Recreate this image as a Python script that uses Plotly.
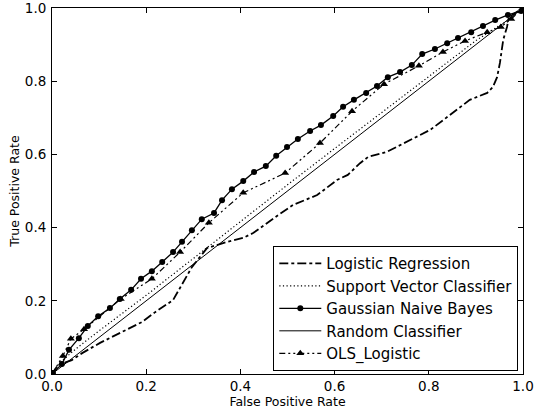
import plotly.graph_objects as go

# ---- data ----
lr_fpr = [0, 0.013, 0.042, 0.064, 0.102, 0.155, 0.191, 0.219, 0.257, 0.297, 0.329, 0.372,
          0.406, 0.427, 0.456, 0.480, 0.512, 0.563, 0.605, 0.628, 0.654, 0.671, 0.711, 0.760,
          0.803, 0.839, 0.887, 0.924, 0.936, 0.945, 0.951, 0.958, 0.966, 0.970, 1.0]
lr_tpr = [0, 0.025, 0.038, 0.057, 0.085, 0.120, 0.142, 0.169, 0.202, 0.292, 0.344, 0.361,
          0.372, 0.385, 0.413, 0.434, 0.462, 0.489, 0.530, 0.544, 0.576, 0.593, 0.607, 0.639,
          0.667, 0.702, 0.749, 0.768, 0.784, 0.811, 0.850, 0.913, 0.948, 0.975, 1.0]

svc_fpr = [0, 0.02, 0.05, 0.10, 0.20, 0.30, 0.40, 0.50, 0.60, 0.70, 0.80, 0.90, 0.95, 0.97, 1.0]
svc_tpr = [0, 0.035, 0.068, 0.118, 0.215, 0.316, 0.416, 0.517, 0.616, 0.714, 0.813, 0.911, 0.952, 0.967, 1.0]

gnb_fpr = [0, 0.002, 0.021, 0.036, 0.057, 0.076, 0.098, 0.123, 0.144, 0.168, 0.189, 0.212,
           0.234, 0.257, 0.276, 0.297, 0.318, 0.344, 0.361, 0.382, 0.406, 0.429, 0.454, 0.476,
           0.499, 0.522, 0.548, 0.571, 0.597, 0.618, 0.641, 0.667, 0.690, 0.713, 0.739, 0.764,
           0.786, 0.813, 0.839, 0.862, 0.890, 0.915, 0.941, 0.968, 0.996, 1.0]
gnb_tpr = [0, 0.003, 0.027, 0.066, 0.098, 0.131, 0.158, 0.180, 0.205, 0.230, 0.260, 0.281,
           0.306, 0.333, 0.361, 0.393, 0.423, 0.440, 0.475, 0.505, 0.527, 0.552, 0.568, 0.596,
           0.620, 0.642, 0.664, 0.680, 0.705, 0.730, 0.749, 0.768, 0.787, 0.811, 0.825, 0.844,
           0.874, 0.888, 0.904, 0.918, 0.934, 0.951, 0.967, 0.981, 0.992, 1.0]

rand_fpr = [0, 1]
rand_tpr = [0, 1]

ols_fpr = [0, 0.023, 0.040, 0.068, 0.146, 0.212, 0.272, 0.333, 0.406, 0.495, 0.569, 0.637,
           0.705, 0.779, 0.830, 0.877, 0.924, 0.953, 0.975, 1.0]
ols_tpr = [0, 0.049, 0.096, 0.122, 0.205, 0.260, 0.333, 0.413, 0.495, 0.549, 0.631, 0.718,
           0.792, 0.842, 0.880, 0.910, 0.934, 0.948, 0.970, 1.0]

tick_vals = [0.0, 0.2, 0.4, 0.6, 0.8, 1.0]
tick_text = ["0.0", "0.2", "0.4", "0.6", "0.8", "1.0"]

fig = go.Figure()
fig.add_trace(go.Scatter(x=lr_fpr, y=lr_tpr, mode="lines", name="Logistic Regression",
                         line=dict(color="black", width=1.8, dash="dashdot")))
fig.add_trace(go.Scatter(x=svc_fpr, y=svc_tpr, mode="lines", name="Support Vector Classifier",
                         line=dict(color="black", width=1.2, dash="1.2px,2.4px")))
fig.add_trace(go.Scatter(x=gnb_fpr, y=gnb_tpr, mode="lines+markers", name="Gaussian Naive Bayes",
                         line=dict(color="black", width=1.3),
                         marker=dict(symbol="circle", size=6, color="black")))
fig.add_trace(go.Scatter(x=rand_fpr, y=rand_tpr, mode="lines", name="Random Classifier",
                         line=dict(color="black", width=1)))
fig.add_trace(go.Scatter(x=ols_fpr, y=ols_tpr, mode="lines+markers", name="OLS_Logistic",
                         line=dict(color="black", width=1.2, dash="6px,3px,2px,3px,2px,3px"),
                         marker=dict(symbol="triangle-up", size=7, color="black")))

axis_common = dict(range=[0, 1], tickvals=tick_vals, ticktext=tick_text,
                   showgrid=False, zeroline=False, showline=True, linecolor="black",
                   linewidth=1, mirror="ticks", ticks="inside", ticklen=5,
                   tickcolor="black", tickfont=dict(size=13.5, color="black"),
                   automargin=False, ticklabeloverflow="allow")

fig.update_layout(
    width=535, height=415,
    margin=dict(l=52, r=12, t=8, b=41),
    paper_bgcolor="white", plot_bgcolor="white",
    font=dict(family="DejaVu Sans", color="black"),
    xaxis=dict(title=dict(text="False Positive Rate", font=dict(size=12.5), standoff=0), **axis_common),
    yaxis=dict(title=dict(text="True Positive Rate", font=dict(size=12.5), standoff=2), **axis_common),
    legend=dict(x=0.99, y=0.008, xanchor="right", yanchor="bottom",
                bordercolor="black", borderwidth=1, bgcolor="white",
                font=dict(size=15), tracegroupgap=0, itemwidth=42),
    showlegend=True,
)
fig.update_yaxes(ticklabelstandoff=2)

fig.write_html("out.html", config={"displayModeBar": False},
               post_script="document.body.style.margin='0';document.body.style.overflow='hidden';")
